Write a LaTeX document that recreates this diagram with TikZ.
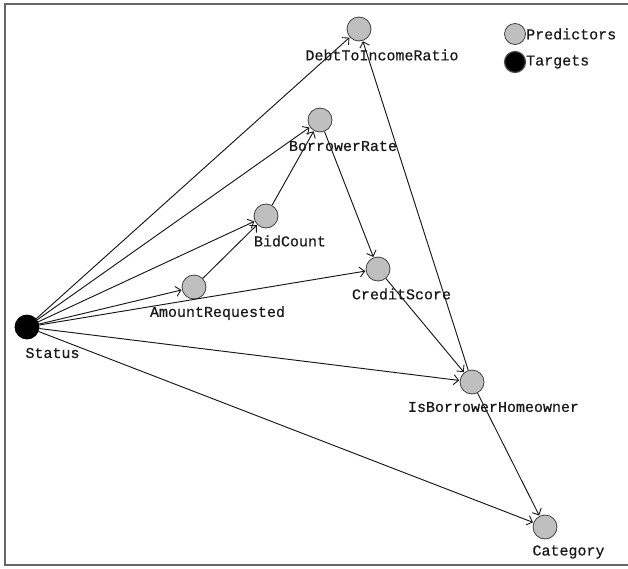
\documentclass[tikz,border=0pt]{standalone}
\usepackage{fontspec}
\setmonofont[FakeBold=0.6]{Liberation Mono}
\usetikzlibrary{arrows.meta,calc}
\begin{document}
\begin{tikzpicture}[x=1pt,y=-1pt,
  pred/.style={circle,draw=black!75,line width=0.8pt,fill=black!25,minimum size=24pt,inner sep=0pt},
  targ/.style={circle,draw=black,line width=0.8pt,fill=black,minimum size=24pt,inner sep=0pt},
  lab/.style={font=\ttfamily\fontsize{15}{15}\selectfont,text=black!90,inner sep=0pt},
  edge/.style={draw=black!90,line width=0.95pt,-{Straight Barb[length=5pt,width=10pt,line width=0.9pt]},shorten >=0.5pt},
  frame/.style={draw=black!60,line width=1.6pt}]
\useasboundingbox (0,0) rectangle (628,568);
\coordinate (f1) at (628,4);
\coordinate (f2) at (5,4);
\coordinate (f3) at (5,565);
\coordinate (f4) at (628,565);
\draw[frame] (f1) -- (f2) -- (f3) -- (f4);

\node[pred] (DTIR) at (359,29) {};
\node[pred] (BR) at (320,120) {};
\node[pred] (BC) at (266,216) {};
\node[pred] (AR) at (194,287) {};
\node[pred] (CS) at (378,269) {};
\node[targ] (ST) at (27,327) {};
\node[pred] (IBH) at (472,382) {};
\node[pred] (CAT) at (545,527) {};

\node[lab] (DTIRl) at ($(DTIR)+(23,26)$) {DebtToIncomeRatio};
\node[lab] (BRl) at ($(BR)+(23,26)$) {BorrowerRate};
\node[lab] (BCl) at ($(BC)+(24,25)$) {BidCount};
\node[lab] (ARl) at ($(AR)+(23.5,26)$) {AmountRequested};
\node[lab] (CSl) at ($(CS)+(23.5,25)$) {CreditScore};
\node[lab] (STl) at ($(ST)+(25.5,26)$) {Status};
\node[lab] (IBHl) at ($(IBH)+(21.5,25)$) {IsBorrowerHomeowner};
\node[lab] (CATl) at ($(CAT)+(23.5,25)$) {Category};

\node[pred,minimum size=21pt] (lp) at (515,34) {};
\node[targ,minimum size=21pt,draw=black!70,line width=1.2pt] (lt) at (515,62) {};
\node[lab,anchor=west] (lpt) at (526,34) {Predictors};
\node[lab,anchor=west] (ltt) at (526,62) {Targets};

\draw[edge] (ST) -- (DTIR);
\draw[edge] (ST) -- (BR);
\draw[edge] (ST) -- (BC);
\draw[edge] (ST) -- (AR);
\draw[edge] (ST) -- (CS);
\draw[edge] (ST) -- (IBH);
\draw[edge] (ST) -- (CAT);
\draw[edge] (AR) -- (BC);
\draw[edge] (BC) -- (BR);
\draw[edge] (BR) -- (CS);
\draw[edge] (CS) -- (IBH);
\draw[edge] (IBH) -- (DTIR);
\draw[edge] (IBH) -- (CAT);
\end{tikzpicture}
\end{document}
